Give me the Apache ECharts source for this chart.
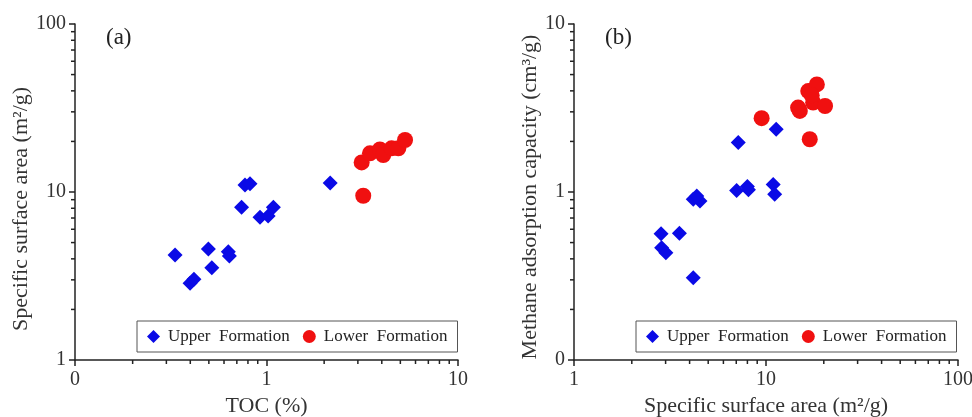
<!DOCTYPE html>
<html>
<head>
<meta charset="utf-8">
<script src="https://cdn.jsdelivr.net/npm/echarts@6/dist/echarts.min.js"></script>
<style>
  html, body { margin: 0; padding: 0; background: #fff; }
  #chart { width: 972px; height: 417px; }
</style>
</head>
<body>
<div id="chart"></div>
<script>
// panel (a): TOC vs specific surface area
var upperA = [
  [0.333, 4.22], [0.497, 4.58], [0.518, 3.54], [0.399, 2.86], [0.418, 3.02],
  [0.632, 4.41], [0.64, 4.16], [0.741, 8.11], [0.772, 11.0], [0.82, 11.2],
  [0.925, 7.07], [1.02, 7.2], [1.086, 8.11], [2.15, 11.3]
]
var lowerA = [
  [3.2, 9.5], [3.14, 15.0], [3.47, 17.0], [3.91, 17.9], [4.07, 16.6],
  [4.5, 18.2], [4.88, 18.2], [5.29, 20.4]
]
// panel (b): specific surface area vs methane adsorption capacity
var upperB = [
  [2.84, 0.565], [3.54, 0.568], [2.86, 0.466], [3.01, 0.435], [4.18, 0.309],
  [4.18, 0.904], [4.53, 0.883], [4.36, 0.947], [7.03, 1.02], [8.0, 1.08],
  [8.1, 1.03], [10.9, 1.11], [11.1, 0.97], [7.17, 1.97], [11.3, 2.36]
]
var lowerB = [
  [9.49, 2.75], [16.9, 2.06], [15.0, 3.04], [14.7, 3.18], [17.6, 3.41],
  [20.3, 3.25], [16.6, 3.99], [18.4, 4.37], [17.3, 3.76]
]
// minor tick values of the log axes
var minorA_x = [0.2, 0.3, 0.4, 0.5, 0.6, 0.7, 0.8, 0.9, 2, 3, 4, 5, 6, 7, 8, 9]
var minorA_y = [2, 3, 4, 5, 6, 7, 8, 9, 20, 30, 40, 50, 60, 70, 80, 90]
var minorB_x = [2, 3, 4, 5, 6, 7, 8, 9, 20, 30, 40, 50, 60, 70, 80, 90]
var minorB_y = [0.2, 0.3, 0.4, 0.5, 0.6, 0.7, 0.8, 0.9, 2, 3, 4, 5, 6, 7, 8, 9]

var font = 'Liberation Serif'
var axisColor = '#222'
var blue = '#0a0ae6'
var red = '#f01010'

function logAxis(min, max, name, gap, vertical, namePad) {
  return {
    type: 'log',
    logBase: 10,
    min: min,
    max: max,
    name: name,
    nameLocation: 'middle',
    nameGap: gap,
    nameTextStyle: { fontFamily: font, fontSize: 22, color: '#333', padding: namePad || 0 },
    axisLine: { show: true, onZero: false, lineStyle: { color: axisColor, width: 1.5 } },
    axisTick: { show: true, inside: false, length: 6, lineStyle: { color: axisColor, width: 1.5 } },
    axisLabel: {
      fontFamily: font, fontSize: 20, color: '#333', margin: vertical ? 9 : 10,
      formatter: function (v) { return v < 1 ? '0' : String(v) }
    },
    splitLine: { show: false }
  }
}

// short tick marks at the minor values, placed by the axes themselves
function minorTicks(gridIdx, data, isX) {
  return {
    type: 'custom',
    xAxisIndex: gridIdx,
    yAxisIndex: gridIdx,
    silent: true,
    clip: false,
    z: 1,
    renderItem: function (params, api) {
      var p = api.coord([api.value(0), api.value(1)])
      var shape = isX
        ? { x1: p[0], y1: p[1], x2: p[0], y2: p[1] + 4 }
        : { x1: p[0], y1: p[1], x2: p[0] - 4, y2: p[1] }
      return { type: 'line', shape: shape, style: { stroke: axisColor, lineWidth: 1.5 } }
    },
    data: data
  }
}

var legendBase = {
  top: 321, padding: [7, 10], itemGap: 13, itemWidth: 13, itemHeight: 13,
  borderColor: '#555', borderWidth: 1, backgroundColor: '#fff',
  textStyle: { fontFamily: font, fontSize: 17, color: '#222', padding: [0, 0, 0, 3] },
  data: ['Upper  Formation', 'Lower  Formation']
}

var chart = echarts.init(document.getElementById('chart'))
chart.setOption({
  animation: false,
  textStyle: { fontFamily: font },
  title: [
    { text: '(a)', left: 101, top: 21, textStyle: { fontFamily: font, fontSize: 23, fontWeight: 'normal', color: '#222' } },
    { text: '(b)', left: 600, top: 21, textStyle: { fontFamily: font, fontSize: 23, fontWeight: 'normal', color: '#222' } }
  ],
  grid: [
    { left: 75, top: 24, width: 383, height: 336, outerBoundsMode: 'none', containLabel: false },
    { left: 574, top: 24, width: 384, height: 336, outerBoundsMode: 'none', containLabel: false }
  ],
  legend: [
    Object.assign({ left: 137 }, legendBase),
    Object.assign({ left: 636 }, legendBase)
  ],
  xAxis: [
    Object.assign(logAxis(0.1, 10, 'TOC (%)', 34, false), { gridIndex: 0 }),
    Object.assign(logAxis(1, 100, 'Specific surface area (m²/g)', 34, false), { gridIndex: 1 })
  ],
  yAxis: [
    Object.assign(logAxis(1, 100, 'Specific surface area (m²/g)', 38, true, [0, 34, 0, 0]), { gridIndex: 0 }),
    Object.assign(logAxis(0.1, 10, 'Methane adsorption capacity (cm³/g)', 33, true, [0, 10, 0, 0]), { gridIndex: 1 })
  ],
  series: [
    minorTicks(0, minorA_x.map(function (v) { return [v, 1] }), true),
    minorTicks(0, minorA_y.map(function (v) { return [0.1, v] }), false),
    minorTicks(1, minorB_x.map(function (v) { return [v, 0.1] }), true),
    minorTicks(1, minorB_y.map(function (v) { return [1, v] }), false),
    {
      name: 'Upper  Formation', type: 'scatter', xAxisIndex: 0, yAxisIndex: 0,
      symbol: 'diamond', symbolSize: 15, itemStyle: { color: blue, opacity: 1 }, data: upperA
    },
    {
      name: 'Lower  Formation', type: 'scatter', xAxisIndex: 0, yAxisIndex: 0,
      symbol: 'circle', symbolSize: 16, itemStyle: { color: red, opacity: 1 }, data: lowerA
    },
    {
      name: 'Upper  Formation', type: 'scatter', xAxisIndex: 1, yAxisIndex: 1,
      symbol: 'diamond', symbolSize: 15, itemStyle: { color: blue, opacity: 1 }, data: upperB
    },
    {
      name: 'Lower  Formation', type: 'scatter', xAxisIndex: 1, yAxisIndex: 1,
      symbol: 'circle', symbolSize: 16, itemStyle: { color: red, opacity: 1 }, data: lowerB
    }
  ]
})
</script>
</body>
</html>
